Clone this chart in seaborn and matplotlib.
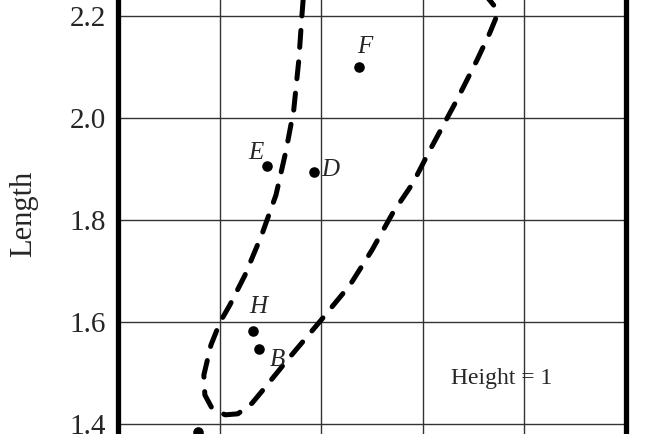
import numpy as np
import pandas as pd
import matplotlib
import matplotlib.pyplot as plt
import seaborn as sns

matplotlib.use('Agg')
sns.set_style('white')
plt.rcParams['font.family'] = ['Liberation Serif', 'DejaVu Serif']

# measured samples
names = ['F', 'E', 'D', 'H', 'B', '']
width = [1.274, 1.094, 1.185, 1.065, 1.078, 0.957]
length = [2.100, 1.906, 1.895, 1.582, 1.547, 1.385]
label_x = [1.286, 1.072, 1.217, 1.076, 1.113, 0.957]
label_y = [2.139, 1.931, 1.898, 1.629, 1.525, 1.385]

# dashed boundary envelope (traced)
env_x = [1.166, 1.162, 1.156, 1.146, 1.131, 1.111, 1.083, 1.050, 1.020, 1.001,
         0.983, 0.969, 0.971, 0.985, 1.011, 1.036, 1.064, 1.089, 1.133, 1.200,
         1.257, 1.300, 1.341, 1.381, 1.414, 1.467, 1.507, 1.532, 1.544, 1.544,
         1.532, 1.517]
env_y = [2.251, 2.200, 2.114, 2.016, 1.937, 1.849, 1.771, 1.692, 1.633, 1.600,
         1.555, 1.496, 1.457, 1.431, 1.418, 1.420, 1.441, 1.471, 1.525, 1.604,
         1.673, 1.741, 1.814, 1.873, 1.937, 2.035, 2.114, 2.167, 2.196, 2.216,
         2.231, 2.247]

y_ticks = [1.2, 1.4, 1.6, 1.8, 2.0, 2.2, 2.4]
y_tick_labels = ['', '1.4', '1.6', '1.8', '2.0', '2.2', '']
x_ticks = [1.0, 1.2, 1.4, 1.6]

pts = pd.DataFrame({'w': width, 'l': length, 'name': names})
env = pd.DataFrame({'x': env_x, 'y': env_y})

fig = plt.figure(figsize=(6.52, 4.34), dpi=100)
ax = fig.add_axes([0.181, -0.212, 0.779, 1.410])

sns.lineplot(data=env, x='x', y='y', sort=False, estimator=None, ax=ax,
             color='black', linewidth=3.6, linestyle=(0, (3.4, 2.9)),
             dash_capstyle='round')
sns.scatterplot(data=pts, x='w', y='l', ax=ax, color='black', s=58,
                edgecolor='black', linewidth=0, zorder=5)

for n, lx, ly in zip(names, label_x, label_y):
    if n:
        ax.text(lx, ly, n, ha='center', va='center', fontsize=18,
                style='italic')

ax.text(1.555, 1.49, 'Height = 1', ha='center', va='center', fontsize=17)

ax.set_xlim(0.8, 1.8)
ax.set_ylim(1.2, 2.4)
ax.set_xticks(x_ticks)
ax.set_yticks(y_ticks)
ax.set_yticklabels(y_tick_labels)
ax.set_xticklabels([])
ax.grid(True, color='#333333', linewidth=1.0)
ax.tick_params(axis='both', length=0, labelsize=21, pad=9)
ax.set_xlabel('')
ax.set_ylabel('Length', fontsize=22)
ax.yaxis.set_label_coords(-0.157, 0.51)

for side in ['left', 'right', 'top', 'bottom']:
    ax.spines[side].set_visible(True)
    ax.spines[side].set_color('black')
    ax.spines[side].set_linewidth(3.8)

plt.savefig('out.png', dpi=100)
plt.close(fig)
